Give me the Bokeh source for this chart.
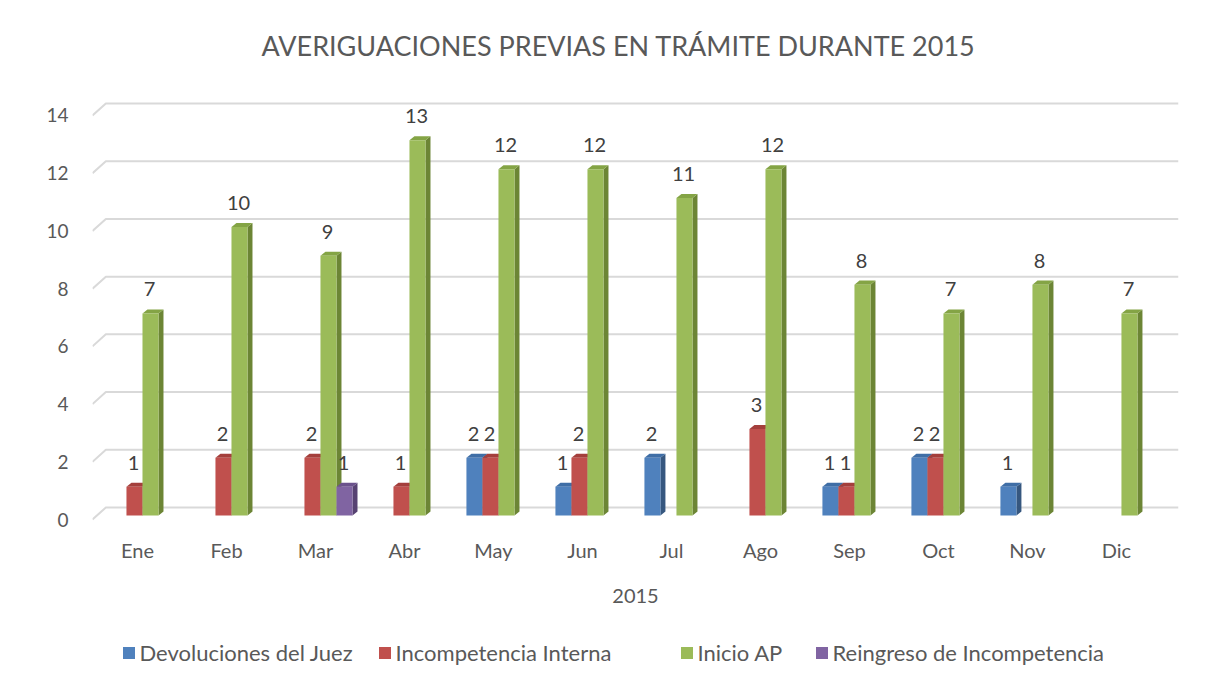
from bokeh.plotting import figure
from bokeh.models import (ColumnDataSource, FixedTicker, Legend, LegendItem, LabelSet, Label,
                          Range1d, CustomJSTickFormatter)
from bokeh.layouts import column
from bokeh.core.properties import value
from bokeh.embed import file_html
from bokeh.resources import INLINE

# ---- data ----
months = ["Ene", "Feb", "Mar", "Abr", "May", "Jun", "Jul", "Ago", "Sep", "Oct", "Nov", "Dic"]
devoluciones = [0, 0, 0, 0, 2, 1, 2, 0, 1, 2, 1, 0]
incompetencia = [1, 2, 2, 1, 2, 2, 0, 3, 1, 2, 0, 0]
inicio_ap = [7, 10, 9, 13, 12, 12, 11, 12, 8, 7, 8, 7]
reingreso = [0, 0, 1, 0, 0, 0, 0, 0, 0, 0, 0, 0]
series_names = ["Devoluciones del Juez", "Incompetencia Interna", "Inicio AP", "Reingreso de Incompetencia"]
series_values = [devoluciones, incompetencia, inicio_ap, reingreso]
y_ticks = [0, 2, 4, 6, 8, 10, 12, 14]
x_title = "2015"
title = "AVERIGUACIONES PREVIAS EN TRÁMITE DURANTE 2015"

# ---- styles ----
front_colors = ["#4F81BD", "#C0504D", "#9BBB59", "#8064A2"]
top_colors = ["#3F6EA6", "#A43F3C", "#84A445", "#6B528C"]
side_colors = ["#36577F", "#8A3533", "#6C8535", "#574272"]
FONT = "Lato"
bar_w = 0.18
group_shift = 0.056
dx, dy = 0.056, 0.139           # 3D depth of bars
g_back_dx, g_back_dy = 0.15, 0.277
g_front_dy = -0.139
legend_x = [28.5, 284.5, 586.5, 721.5]   # legend entry offsets (px from frame left)

x_start, x_end = -0.5056, 11.697
y_start, y_end = -0.693, 14.554
px_per_cat = 89.0

W = 1216
H_TITLE, H_MAIN, H_LEG = 95, 535, 44

# ---- title row ----
pt = figure(width=W, height=H_TITLE, output_backend="svg", toolbar_location=None,
            x_range=Range1d(x_start, x_end), y_range=Range1d(0, 1),
            x_axis_location=None, y_axis_location=None,
            min_border_left=0, min_border_right=0, min_border_top=0, min_border_bottom=0)
pt.outline_line_color = None
pt.grid.visible = False
pt.background_fill_color = "white"
pt.border_fill_color = "white"
pt.add_layout(Label(x=x_start + 526 / px_per_cat, y=1 - 45 / H_TITLE, text=title,
                    text_align="center", text_baseline="middle", text_font=FONT,
                    text_font_size="27px", text_color="#595959"))

# ---- main chart ----
p = figure(width=W, height=H_MAIN, output_backend="svg", toolbar_location=None,
           x_range=Range1d(x_start, x_end), y_range=Range1d(y_start, y_end),
           min_border_left=92, min_border_right=38, min_border_top=0, min_border_bottom=95)
p.outline_line_color = None
p.background_fill_color = "white"
p.border_fill_color = "white"
p.xgrid.visible = False
p.ygrid.visible = False

# gridlines with 3D stub
gx, gy = [], []
for t in y_ticks:
    gx.append([x_start, x_start + g_back_dx, x_end])
    gy.append([t + g_front_dy, t + g_back_dy, t + g_back_dy])
p.multi_line(gx, gy, line_color="#d9d9d9", line_width=2)

label_src = {"x": [], "y": [], "t": []}
series_sources = []
for k, (name, vals) in enumerate(zip(series_names, series_values)):
    off = group_shift + (k - 1.5) * bar_w
    xs = [i + off for i, v in enumerate(vals) if v > 0]
    hs = [v for v in vals if v > 0]
    side_x, side_y, top_x, top_y = [], [], [], []
    for xc, h in zip(xs, hs):
        xl, xr = xc - bar_w / 2, xc + bar_w / 2
        side_x.append([xr, xr + dx, xr + dx, xr])
        side_y.append([0, dy, h + dy, h])
        top_x.append([xl, xl + dx, xr + dx, xr])
        top_y.append([h, h + dy, h + dy, h])
        label_src["x"].append(xc - 0.01)
        label_src["y"].append(h)
        label_src["t"].append(str(h))
    p.patches(side_x, side_y, fill_color=side_colors[k], line_color=None)
    p.patches(top_x, top_y, fill_color=top_colors[k], line_color=None)
    src = ColumnDataSource(dict(x=xs, top=hs))
    series_sources.append(src)
    p.vbar(x="x", top="top", bottom=0, width=bar_w, source=src,
           fill_color=front_colors[k], line_color=None)

labels = LabelSet(x="x", y="y", text="t", source=ColumnDataSource(label_src),
                  y_offset=24, text_align="center", text_baseline="middle",
                  text_font=value(FONT), text_font_size="20px", text_color="#404040")
p.add_layout(labels)

# axes
p.xaxis.ticker = FixedTicker(ticks=list(range(len(months))))
p.xaxis.major_label_overrides = {i: m for i, m in enumerate(months)}
p.xaxis.axis_label = x_title
# y tick labels sit at the front edge of the 3D floor
p.yaxis.ticker = FixedTicker(ticks=[t + g_front_dy for t in y_ticks])
p.yaxis.formatter = CustomJSTickFormatter(args=dict(off=-g_front_dy),
                                          code="return String(Math.round(tick + off))")
for ax in (p.xaxis[0], p.yaxis[0]):
    ax.axis_line_color = None
    ax.major_tick_line_color = None
    ax.minor_tick_line_color = None
    ax.major_tick_out = 0
    ax.major_tick_in = 0
    ax.minor_tick_out = 0
    ax.major_label_text_font = FONT
    ax.major_label_text_font_size = "20px"
    ax.major_label_text_color = "#595959"
    ax.axis_label_text_font = FONT
    ax.axis_label_text_font_size = "20px"
    ax.axis_label_text_font_style = "normal"
    ax.axis_label_text_color = "#595959"
p.yaxis.major_label_text_font_size = "19px"
p.xaxis.major_label_standoff = 2
p.xaxis.axis_label_standoff = 24
p.yaxis.major_label_standoff = 24

# ---- legend row (frame aligned with the main frame by the column layout) ----
pl = figure(width=W, height=H_LEG, output_backend="svg", toolbar_location=None,
            x_range=Range1d(x_start, x_end), y_range=Range1d(y_start, y_end),
            x_axis_location=None, y_axis_location=None,
            min_border_left=0, min_border_right=0, min_border_top=0, min_border_bottom=0)
pl.outline_line_color = None
pl.grid.visible = False
pl.background_fill_color = "white"
pl.border_fill_color = "white"
for name, c, src, lx in zip(series_names, front_colors, series_sources, legend_x):
    r = pl.vbar(x="x", top="top", bottom=0, width=bar_w, source=src,
                fill_color=c, line_color=None, visible=False)
    lg = Legend(items=[LegendItem(label=name, renderers=[r])], orientation="horizontal",
                location=(lx, 8),
                label_text_font=FONT, label_text_font_size="22px", label_text_color="#595959",
                glyph_width=15, glyph_height=15, label_standoff=4, spacing=0,
                border_line_color=None, background_fill_alpha=0, padding=0, margin=0)
    pl.add_layout(lg, "center")

open("out.html", "w").write(file_html(column(pt, p, pl, spacing=0), INLINE))
